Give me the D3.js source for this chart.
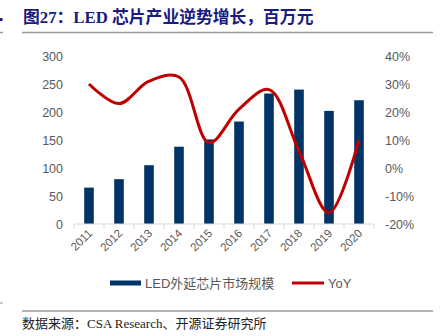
<!DOCTYPE html>
<html>
<head>
<meta charset="utf-8">
<script src="https://cdn.jsdelivr.net/npm/d3@7"></script>
<style>
  body { margin: 0; background: #fff; }
  svg { display: block; }
</style>
</head>
<body>
<svg id="chart" width="443" height="336"></svg>
<script>
var years = ['2011','2012','2013','2014','2015','2016','2017','2018','2019','2020'];
var marketSize = [65, 80, 105, 138, 151, 183, 233, 240, 202, 221];
var yoy = [30, 23, 31, 32.5, 9, 21, 28, 6, -16, 10];
var leftTicks = [0, 50, 100, 150, 200, 250, 300];
var rightTicks = [-20, -10, 0, 10, 20, 30, 40];

var svg = d3.select('#chart');
var gray = '#595959';
var sans = 'Arial, "Liberation Sans", "Noto Sans CJK SC", sans-serif';

// title
svg.append('text')
  .attr('x', 23).attr('y', 23)
  .attr('fill', '#1a1a80')
  .attr('font-family', '"Liberation Serif", "Noto Sans CJK SC", serif')
  .attr('font-weight', 'bold')
  .attr('font-size', 16.8)
  .text('图27：LED 芯片产业逆势增长，百万元');
svg.append('line')
  .attr('x1', 22).attr('x2', 433).attr('y1', 32.5).attr('y2', 32.5)
  .attr('stroke', '#999').attr('stroke-width', 1.5);
// cut-off bits at left edge
svg.append('rect').attr('x', 0).attr('y', 18).attr('width', 2.5).attr('height', 3).attr('fill', '#1a1a80');
svg.append('line').attr('x1', 0).attr('x2', 3).attr('y1', 32.5).attr('y2', 32.5).attr('stroke', '#999').attr('stroke-width', 1.5);
svg.append('line').attr('x1', 0).attr('x2', 3).attr('y1', 303).attr('y2', 303).attr('stroke', '#999').attr('stroke-width', 1);

var x = d3.scaleBand().domain(years).range([74, 374]).padding(0);
var yL = d3.scaleLinear().domain([0, 300]).range([224, 56]);
var yR = d3.scaleLinear().domain([-20, 40]).range([224, 56]);

// bars
var bw = x.bandwidth() * 0.32;
svg.append('g').selectAll('rect')
  .data(marketSize)
  .enter().append('rect')
  .attr('x', function(d, i) { return x(years[i]) + (x.bandwidth() - bw) / 2; })
  .attr('y', function(d) { return yL(d); })
  .attr('width', bw)
  .attr('height', function(d) { return yL(0) - yL(d); })
  .attr('fill', '#003366');

// x axis
var xAxis = svg.append('g').attr('transform', 'translate(0,' + yL(0) + ')');
xAxis.append('line').attr('x1', 74).attr('x2', 374).attr('stroke', '#d9d9d9');
xAxis.selectAll('.tk')
  .data(d3.range(years.length + 1))
  .enter().append('line')
  .attr('x1', function(i) { return 74 + i * x.bandwidth(); })
  .attr('x2', function(i) { return 74 + i * x.bandwidth(); })
  .attr('y1', 0).attr('y2', 5)
  .attr('stroke', '#d9d9d9');
xAxis.selectAll('text')
  .data(years)
  .enter().append('text')
  .attr('transform', function(d) {
    return 'translate(' + (x(d) + x.bandwidth() / 2 + 4) + ',10) rotate(-45)';
  })
  .attr('text-anchor', 'end')
  .attr('font-family', sans)
  .attr('font-size', 11.5)
  .attr('fill', gray)
  .text(function(d) { return d; });

// left axis
var leftAxis = d3.axisLeft(yL).tickValues(leftTicks).tickSize(0).tickPadding(0);
svg.append('g')
  .attr('transform', 'translate(63,0)')
  .call(leftAxis)
  .call(function(g) { g.select('.domain').remove(); })
  .selectAll('text')
  .attr('font-family', sans).attr('font-size', 12.5).attr('fill', gray);

// right axis
var rightAxis = d3.axisRight(yR).tickValues(rightTicks).tickSize(0).tickPadding(0)
  .tickFormat(function(d) { return d + '%'; });
svg.append('g')
  .attr('transform', 'translate(385,0)')
  .call(rightAxis)
  .call(function(g) { g.select('.domain').remove(); })
  .selectAll('text')
  .attr('font-family', sans).attr('font-size', 12.5).attr('fill', gray);

// YoY line
var line = d3.line()
  .x(function(d, i) { return x(years[i]) + x.bandwidth() / 2; })
  .y(function(d) { return yR(d); })
  .curve(d3.curveCatmullRom.alpha(0.5));
svg.append('path')
  .datum(yoy)
  .attr('d', line)
  .attr('fill', 'none')
  .attr('stroke', '#c00000')
  .attr('stroke-width', 3);

// legend
var lg = svg.append('g').attr('font-family', sans).attr('font-size', 13).attr('fill', gray);
lg.append('rect').attr('x', 110).attr('y', 280.5).attr('width', 31).attr('height', 5).attr('fill', '#003366');
lg.append('text').attr('x', 145).attr('y', 283).attr('dy', '0.35em').text('LED外延芯片市场规模');
lg.append('line').attr('x1', 292).attr('x2', 324).attr('y1', 283).attr('y2', 283)
  .attr('stroke', '#c00000').attr('stroke-width', 3);
lg.append('text').attr('x', 328).attr('y', 283).attr('dy', '0.35em').text('YoY');

// source
svg.append('line')
  .attr('x1', 22).attr('x2', 433).attr('y1', 311).attr('y2', 311)
  .attr('stroke', '#666').attr('stroke-width', 1);
svg.append('text')
  .attr('x', 22).attr('y', 328)
  .attr('font-family', '"Liberation Serif", "Noto Sans CJK SC", serif')
  .attr('font-size', 13)
  .attr('fill', '#222')
  .text('数据来源：CSA Research、开源证券研究所');
</script>
</body>
</html>
